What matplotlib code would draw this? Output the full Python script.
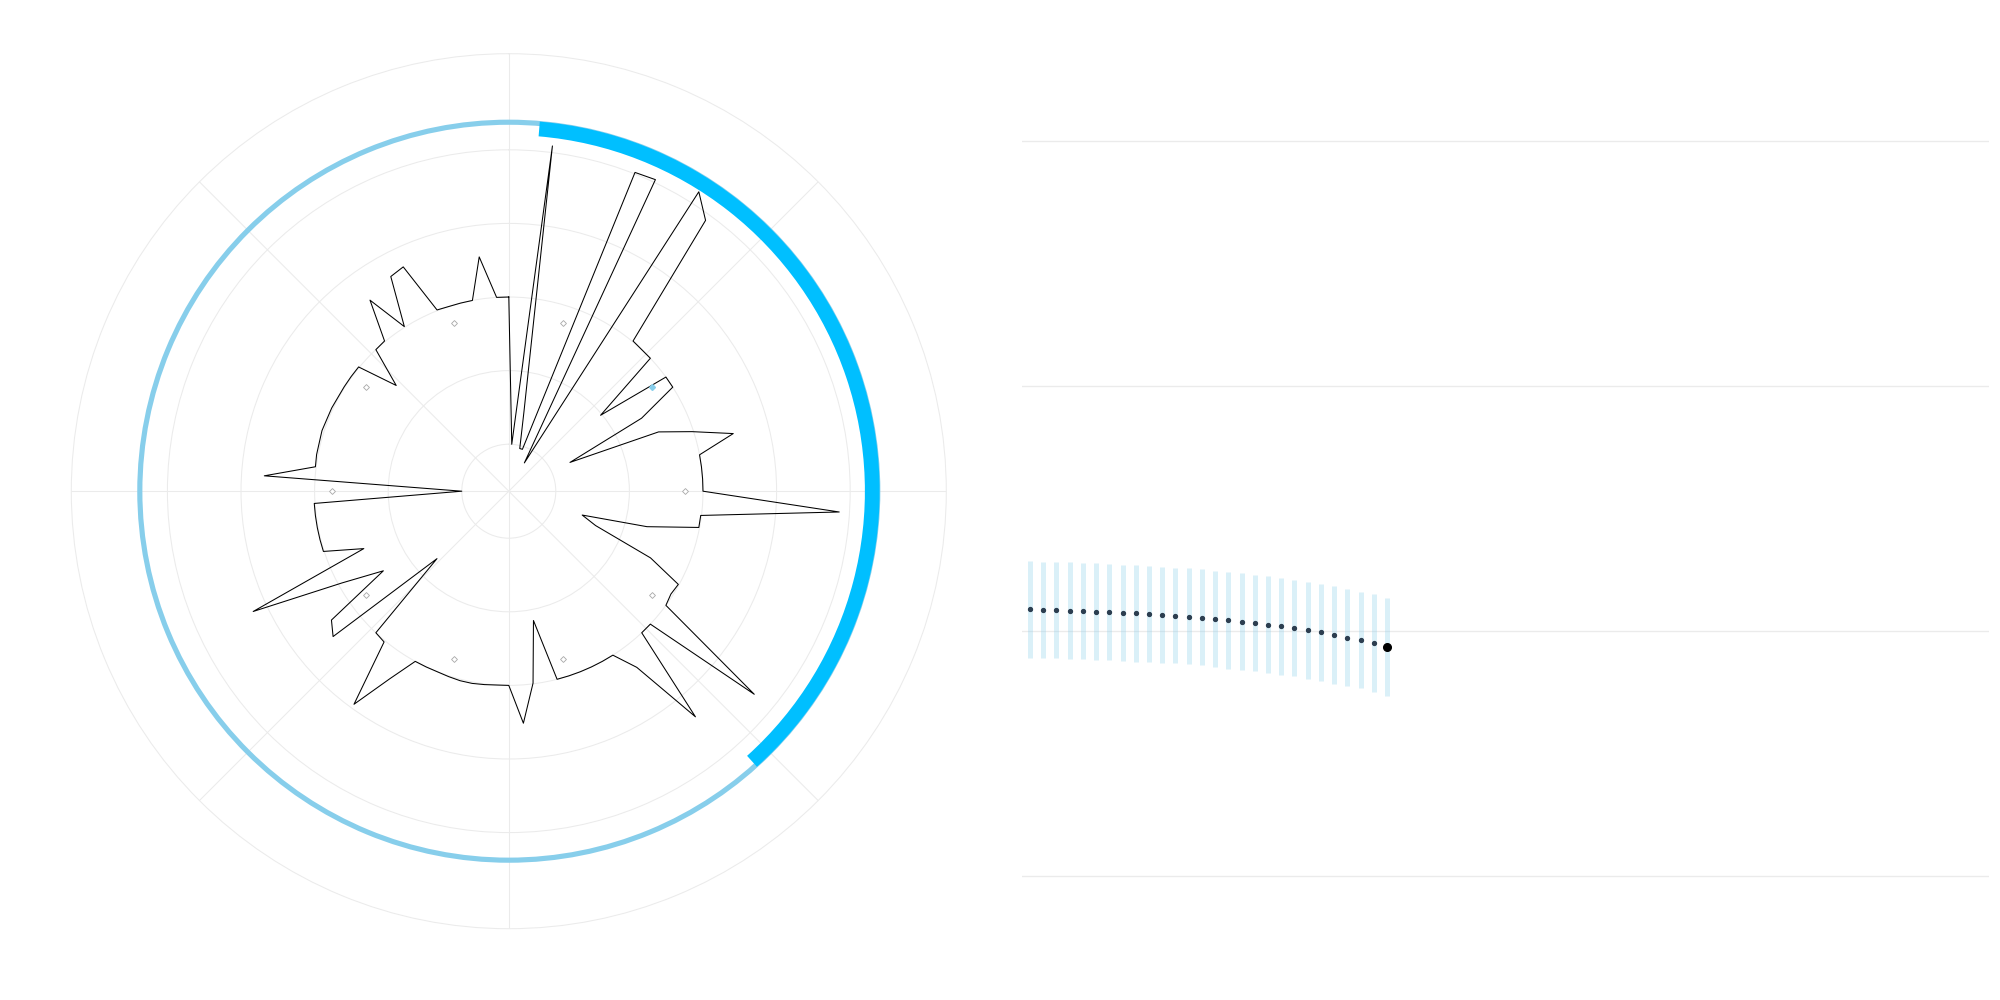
"""
Radial reading wheel (100 readings, one every 3.6 deg clockwise from north) next to a
28-day interval strip. Saves out.png at 2000x1000.
"""
import numpy as np
import matplotlib
matplotlib.use("Agg")
import matplotlib.pyplot as plt

# ---- radial panel ---------------------------------------------------------
radial_values = [
    2.00, 0.00, 4.09, 0.46, -0.04, -0.04, 4.02, 4.04, -0.20, 4.18,
    3.91, 2.01, 2.00, 2.00, 0.98, 2.00, 2.00, 1.42, 0.28, 1.55,
    1.98, 2.51, 2.00, 2.00, 2.00, 2.00, 3.86, 1.99, 1.99, 1.30,
    0.41, 0.63, 1.49, 1.99, 1.97, 2.00, 3.69, 2.00, 2.00, 3.34,
    2.32, 2.00, 2.00, 2.00, 2.00, 2.00, 2.00, 1.15, 1.99, 2.52,
    2.00, 2.00, 2.01, 2.02, 2.02, 2.01, 2.00, 2.00, 2.00, 2.38,
    2.94, 2.02, 2.00, 0.70, 2.46, 2.34, 1.38, 1.95, 3.20, 1.48,
    2.01, 2.01, 2.01, 2.01, 2.01, 0.00, 2.69, 2.01, 2.02, 2.02,
    2.03, 2.02, 2.02, 2.01, 2.01, 2.01, 2.01, 1.46, 2.00, 2.01,
    2.57, 2.01, 2.69, 2.73, 2.01, 2.00, 2.00, 2.00, 2.57, 2.00,
]
marker_angles_deg = [18, 54, 90, 126, 162, 198, 234, 270, 306, 342]
marker_radius = 1.76
highlight_angle_deg = 54
ring_inner, ring_outer = 4.34, 4.41
arc_start_deg, arc_end_deg = 4.8, 138.0
arc_inner, arc_outer = 4.20, 4.40
r_ticks = [0, 1, 2, 3, 4]

# ---- interval strip -------------------------------------------------------
days = list(range(1, 29))
mid = [1.090, 1.086, 1.086, 1.082, 1.082, 1.078, 1.078, 1.073, 1.073, 1.069,
       1.065, 1.061, 1.057, 1.053, 1.049, 1.045, 1.037, 1.033, 1.024, 1.020,
       1.012, 1.004, 0.996, 0.984, 0.971, 0.963, 0.951, 0.933]
upper = [1.286, 1.282, 1.282, 1.282, 1.278, 1.278, 1.273, 1.269, 1.269, 1.265,
         1.261, 1.257, 1.257, 1.253, 1.245, 1.241, 1.237, 1.229, 1.224, 1.216,
         1.208, 1.200, 1.192, 1.184, 1.171, 1.159, 1.151, 1.135]
lower = [0.891, 0.891, 0.891, 0.887, 0.887, 0.883, 0.883, 0.879, 0.875, 0.875,
         0.871, 0.867, 0.863, 0.859, 0.854, 0.846, 0.842, 0.838, 0.830, 0.822,
         0.814, 0.805, 0.797, 0.785, 0.777, 0.765, 0.752, 0.736]
y_grid = [0, 1, 2, 3]

GRID = "#ebebeb"
SKY = "#87CEEB"
DEEP = "#00BFFF"


def draw_wheel(ax):
    ax.set_theta_zero_location("N")
    ax.set_theta_direction(-1)
    ax.set_ylim(-0.6386, 5.306)
    ax.set_yticks(r_ticks)
    ax.set_xticks(np.deg2rad(np.arange(0, 360, 45)))
    ax.set_xticklabels([])
    ax.set_yticklabels([])
    ax.tick_params(length=0)
    ax.grid(True, color=GRID, lw=0.75)
    ax.spines["polar"].set_color(GRID)
    ax.spines["polar"].set_linewidth(0.75)

    # outer ring + highlighted window
    ax.bar(0, ring_outer - ring_inner, width=2 * np.pi, bottom=ring_inner,
           align="edge", color=SKY, lw=0, zorder=2)
    ax.bar(np.deg2rad(arc_start_deg), arc_outer - arc_inner,
           width=np.deg2rad(arc_end_deg - arc_start_deg), bottom=arc_inner,
           align="edge", color=DEEP, lw=0, zorder=2.1)

    theta = np.linspace(0, 2 * np.pi, len(radial_values), endpoint=False)
    vals = np.array(radial_values)
    ax.plot(np.append(theta, theta[0]), np.append(vals, vals[0]),
            color="black", lw=0.75, zorder=3)

    for a in marker_angles_deg:
        if a == highlight_angle_deg:
            ax.plot(np.deg2rad(a), marker_radius, "D", ms=3, color=SKY,
                    mec=SKY, zorder=4)
        else:
            ax.plot(np.deg2rad(a), marker_radius, "D", ms=3, mfc="white",
                    mec="#a8a8a8", mew=0.6, zorder=4)


def draw_strip(ax):
    ax.set_xlim(0.395, 73.54)
    ax.set_ylim(-0.18, 3.167)
    ax.set_yticks(y_grid)
    ax.set_xticks([])
    ax.set_yticklabels([])
    ax.tick_params(length=0)
    for s in ax.spines.values():
        s.set_visible(False)
    ax.grid(True, axis="y", color=GRID, lw=1.0)
    ax.set_axisbelow(True)

    ax.vlines(days, lower, upper, color=SKY, alpha=0.3, lw=3.6, zorder=2)
    ax.plot(days[:-1], mid[:-1], "o", ms=2.8, color="#2c3e50", zorder=3)
    ax.plot(days[-1], mid[-1], "o", ms=5.5, color="black", zorder=4)


def main():
    fig = plt.figure(figsize=(20, 10), dpi=100)
    ax_w = fig.add_axes([0.03565, 0.0713, 0.4375, 0.875], projection="polar")
    draw_wheel(ax_w)
    ax_s = fig.add_axes([0.511, 0.08, 0.4835, 0.82])
    draw_strip(ax_s)
    fig.savefig("out.png", dpi=100, facecolor="white")


if __name__ == "__main__":
    main()
